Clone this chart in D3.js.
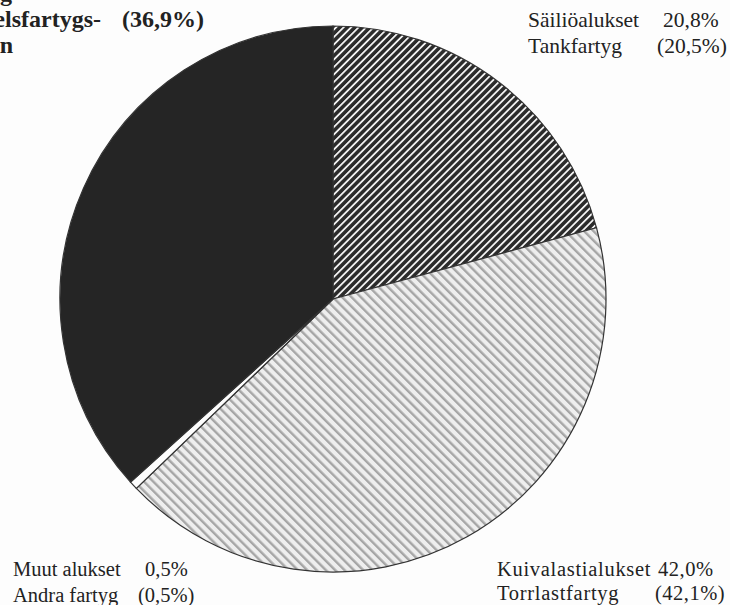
<!DOCTYPE html>
<html><head><meta charset="utf-8">
<script src="https://cdn.jsdelivr.net/npm/d3@7"></script>
<style>html,body{margin:0;padding:0;background:#fdfdfd;overflow:hidden}</style>
</head><body><svg id="c" width="730" height="605"></svg>
<script>
// Data
const categoriesFi = ["Säiliöalukset", "Kuivalastialukset", "Muut alukset", "Matkustaja-alukset"];
const categoriesSv = ["Tankfartyg", "Torrlastfartyg", "Andra fartyg", "Passagerarfartyg"];
const shares = [20.8, 42.0, 0.5, 36.7];
const sharesSv = [20.5, 42.1, 0.5, 36.9];
const fmt = v => v.toFixed(1).replace(".", ",") + "%";

const svg = d3.select("#c");
svg.append("rect").attr("width", 730).attr("height", 605).attr("fill", "#fdfdfd");
const defs = svg.append("defs");

function stripes(id, period, lineW, bg, fg, angle) {
  const p = defs.append("pattern").attr("id", id).attr("patternUnits", "userSpaceOnUse")
    .attr("width", period).attr("height", period)
    .attr("patternTransform", `rotate(${angle})`);
  p.append("rect").attr("width", period).attr("height", period).attr("fill", bg);
  p.append("rect").attr("x", 0).attr("width", lineW).attr("height", period).attr("fill", fg);
}
stripes("tank", 5.3, 1.8, "#2b2b2b", "#f2f2f2", 45);
stripes("dry", 6.6, 2.4, "#eeeeee", "#a6a6a6", -45);

const fills = ["url(#tank)", "url(#dry)", "#fdfdfd", "#252525"];

const cx = 333, cy = 299, R = 273;
const pie = d3.pie().sort(null).value(d => d)(shares);
const arc = d3.arc().innerRadius(0).outerRadius(R);
const g = svg.append("g").attr("transform", `translate(${cx},${cy})`);
g.selectAll("path").data(pie).join("path")
  .attr("d", arc)
  .attr("fill", (d, i) => fills[i])
  .attr("stroke", "#333")
  .attr("stroke-width", 1.2);

// Labels
const font = "'Liberation Serif', 'DejaVu Serif', serif";
function lab(x, y, txt, size, weight, anchor, ls) {
  svg.append("text").attr("x", x).attr("y", y).text(txt)
    .attr("font-family", font).attr("font-size", size)
    .attr("font-weight", weight || "normal").attr("fill", "#222")
    .attr("letter-spacing", ls || 0)
    .attr("text-anchor", anchor || "start");
}
// top right (tank)
lab(528, 27, categoriesFi[0], 21.5);
lab(663, 27, fmt(shares[0]), 21.5);
lab(528, 53, categoriesSv[0], 21.5);
lab(657, 53, "(" + fmt(sharesSv[0]) + ")", 21.5);
// bottom right (dry cargo)
lab(497, 576, categoriesFi[1], 20.5, null, null, 0.7);
lab(658, 576, fmt(shares[1]), 20.5, null, null, 0.5);
lab(497, 600, categoriesSv[1], 20.5, null, null, 0.7);
lab(655, 600, "(" + fmt(sharesSv[1]) + ")", 20.5, null, null, 0.5);
// bottom left (others)
lab(13, 576, categoriesFi[2], 20.5);
lab(145, 576, fmt(shares[2]), 20.5);
lab(13, 602, categoriesSv[2], 20.5);
lab(138, 602, "(" + fmt(sharesSv[2]) + ")", 20.5);
// top left (passenger, cropped at the edge as in the original)
lab(12, 1, "Passagerarfartyg", 24, "bold", "end");
lab(101, 27, "handelsfartygs-", 24, "bold", "end");
lab(122, 27, "(" + fmt(sharesSv[3]) + ")", 24, "bold");
lab(13, 53, "fartygen", 24, "bold", "end");
</script></body></html>
